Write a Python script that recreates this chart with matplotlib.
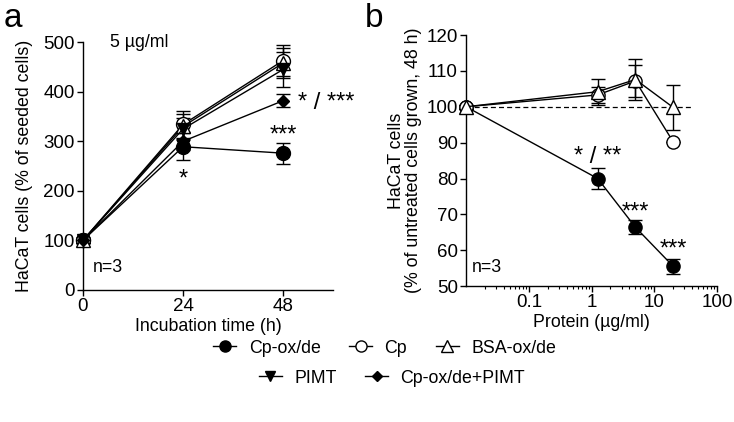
import numpy as np
from matplotlib import pyplot as plt
from matplotlib.lines import Line2D

plt.rcParams["font.family"] = ["Liberation Sans", "DejaVu Sans"]
plt.rcParams["font.size"] = 12

# panel a: growth over time at 5 ug/ml
hours = [0, 24, 48]
a_cpoxde = [100, 289, 276]
a_cpoxde_err = [5, 27, 21]
a_cp = [100, 334, 463]
a_cp_err = [5, 28, 32]
a_bsa = [100, 330, 458]
a_bsa_err = [5, 25, 30]
a_pimt = [100, 325, 445]
a_pimt_err = [5, 22, 36]
a_combo = [100, 300, 382]
a_combo_err = [5, 18, 13]

# panel b: dose response at 48 h
dose = [0.01, 1.25, 5, 20]
b_cpoxde = [100, 80, 66.4, 55.5]
b_cpoxde_err = [0.5, 3, 2, 2]
b_cp = [100, 103.3, 107.2, 90.2]
b_cp_err = [0.5, 2.3, 4.5, 0]
b_bsa = [100, 104.2, 107.6, 99.8]
b_bsa_err = [0.5, 3.6, 5.6, 6.4]

TICK_FS = 13.5
LABEL_FS = 12.8
STAR_FS = 17


def series(ax, x, y, err, marker, face, ms, lw=1.0):
    ax.errorbar(x, y, yerr=err, color="black", marker=marker, mfc=face, mec="black",
                ms=ms, lw=lw, elinewidth=1.0, capsize=5, capthick=1.0, clip_on=False,
                zorder=3)


def style(ax):
    for side in ("top", "right"):
        ax.spines[side].set_visible(False)
    for side in ("left", "bottom"):
        ax.spines[side].set_linewidth(1.0)
    ax.tick_params(direction="out", length=4, width=1.0, labelsize=TICK_FS, pad=2)
    ax.tick_params(which="minor", direction="out", length=2.5, width=0.8)


def main() -> None:
    fig = plt.figure(figsize=(7.34, 4.22), dpi=100)
    ax0 = fig.add_axes([0.113, 0.313, 0.341, 0.587])
    ax1 = fig.add_axes([0.635, 0.322, 0.342, 0.595])

    series(ax0, hours, a_cpoxde, a_cpoxde_err, "o", "black", 10)
    series(ax0, hours, a_cp, a_cp_err, "o", "white", 10)
    series(ax0, hours, a_bsa, a_bsa_err, "^", "white", 10)
    series(ax0, hours, a_pimt, a_pimt_err, "v", "black", 8)
    series(ax0, hours, a_combo, a_combo_err, "D", "black", 6)
    ax0.set_xlim(0, 60)
    ax0.set_ylim(0, 500)
    ax0.set_xticks([0, 24, 48])
    ax0.set_yticks([0, 100, 200, 300, 400, 500])
    ax0.set_xlabel("Incubation time (h)", fontsize=LABEL_FS, labelpad=2)
    ax0.set_ylabel("HaCaT cells (% of seeded cells)", fontsize=LABEL_FS, labelpad=7)
    style(ax0)
    ax0.text(6.5, 500, "5 µg/ml", fontsize=LABEL_FS, va="center")
    ax0.text(2.3, 45, "n=3", fontsize=LABEL_FS, va="center")
    ax0.text(24, 222, "*", fontsize=STAR_FS, ha="center", va="center")
    ax0.text(48, 312, "***", fontsize=STAR_FS, ha="center", va="center")
    ax0.text(51.5, 378, "* / ***", fontsize=STAR_FS, ha="left", va="center")

    series(ax1, dose, b_cpoxde, b_cpoxde_err, "o", "black", 9.5)
    series(ax1, dose, b_cp, b_cp_err, "o", "white", 9.5)
    series(ax1, dose, b_bsa, b_bsa_err, "^", "white", 9.5)
    ax1.plot([0.01, 38], [100, 100], ls=(0, (4, 2.5)), color="black", lw=0.9, zorder=1)
    ax1.set_xscale("log")
    ax1.set_xlim(0.01, 100)
    ax1.set_ylim(50, 120)
    ax1.set_xticks([0.1, 1, 10, 100])
    ax1.set_xticklabels(["0.1", "1", "10", "100"])
    ax1.set_yticks(np.arange(50, 121, 10))
    ax1.set_xlabel("Protein (µg/ml)", fontsize=LABEL_FS, labelpad=2)
    ax1.set_ylabel("HaCaT cells\n(% of untreated cells grown, 48 h)", fontsize=LABEL_FS,
                   labelpad=3, linespacing=1.0)
    style(ax1)
    ax1.text(0.0125, 55.3, "n=3", fontsize=LABEL_FS, va="center")
    ax1.text(1.25, 86.0, "* / **", fontsize=STAR_FS, ha="center", va="center")
    ax1.text(5, 70.5, "***", fontsize=STAR_FS, ha="center", va="center")
    ax1.text(20, 60.3, "***", fontsize=STAR_FS, ha="center", va="center")

    fig.text(0.005, 0.955, "a", fontsize=24, va="center")
    fig.text(0.497, 0.955, "b", fontsize=24, va="center")

    def handle(marker, face, ms):
        return Line2D([], [], color="black", lw=1.0, marker=marker, mfc=face,
                      mec="black", ms=ms)

    row1 = [handle("o", "black", 8), handle("o", "white", 8), handle("^", "white", 8)]
    row2 = [handle("v", "black", 7), handle("D", "black", 5)]
    fig.legend(row1, ["Cp-ox/de", "Cp", "BSA-ox/de"], ncol=3, frameon=False,
               loc="center", bbox_to_anchor=(0.524, 0.175), fontsize=LABEL_FS,
               handlelength=1.3, columnspacing=1.6, handletextpad=0.7)
    fig.legend(row2, ["PIMT", "Cp-ox/de+PIMT"], ncol=2, frameon=False,
               loc="center", bbox_to_anchor=(0.534, 0.104), fontsize=LABEL_FS,
               handlelength=1.3, columnspacing=1.6, handletextpad=0.7)

    fig.savefig("out.png", dpi=100)


if __name__ == "__main__":
    main()
